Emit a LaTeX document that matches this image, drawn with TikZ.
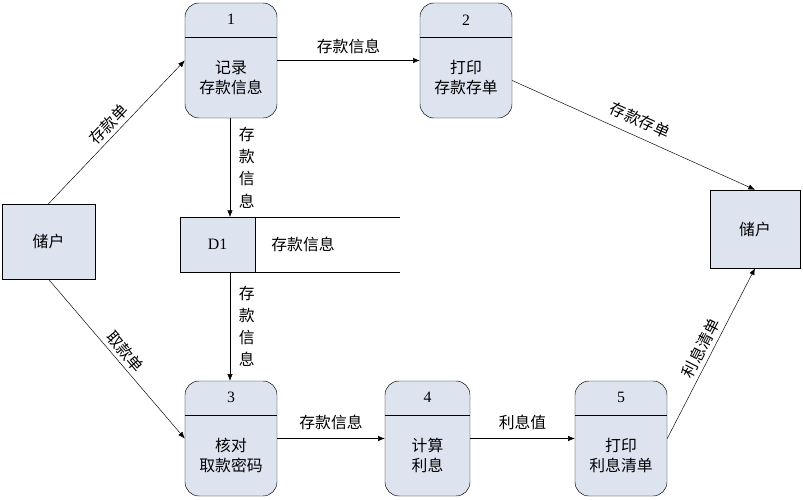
\documentclass[tikz,border=0pt]{standalone}
\usepackage{fontspec}
\setmainfont{Liberation Serif}
\newfontfamily\cjk{Noto Sans CJK SC}
\usetikzlibrary{arrows.meta,calc,positioning}
\definecolor{boxfill}{RGB}{221,228,240}

\begin{document}
\begin{tikzpicture}[x=0.03cm, y=-0.03cm,
  every node/.style={font=\cjk\fontsize{13.5}{17}\selectfont},
  proc/.style={draw, fill=boxfill, rounded corners=12pt, minimum width=2.76cm,
               minimum height=3.45cm, inner sep=0pt},
  ext/.style={draw, fill=boxfill, minimum width=2.8cm, minimum height=2.25cm},
  num/.style={font=\fontsize{13.5}{15}\selectfont},
  arr/.style={-{Latex[length=2mm,width=1.6mm]}},
  vlab/.style={align=center, font=\cjk\fontsize{13.5}{19}\selectfont}
]
\useasboundingbox (0,0) rectangle (803,500);

% external entities
\node[ext] (cusL) at (48.5,241.5) {储户};
\node[ext, minimum width=2.7cm, minimum height=2.34cm] (cusR) at (755,229) {储户};

% processes
\foreach \n/\x/\y/\w/\t in {1/231/60.5/2.76/{记录\\存款信息}, 2/466/60.5/2.76/{打印\\存款存单},
    3/231/438.5/2.76/{核对\\取款密码}, 4/427.5/438.5/2.55/{计算\\利息}, 5/621/438.5/2.76/{打印\\利息清单}}{
  \node[proc, minimum width=\w cm] (p\n) at (\x,\y) {};
  \draw ($(p\n.north west)+(0,34)$) -- ($(p\n.north east)+(0,34)$);
  \node[num] at ($(p\n.north)+(0,17)$) {\n};
  \node[align=center] at ($(p\n.center)+(0,17)$) {\t};
}

% data store
\fill[boxfill] (180,217) rectangle (255,272);
\draw (400,217) -- (180,217) -- (180,272) -- (400,272);
\draw (255,217) -- (255,272);
\node[num] (d1) at (217.5,244.5) {D1};
\node (dname) at (303,244.5) {存款信息};
\coordinate (dtop) at (230,217);
\coordinate (dbot) at (230,272);

% flows
\draw[arr] (cusL.north) -- node[sloped, above] {存款单} (p1.west);
\draw[arr] (cusL.south) -- node[sloped, above] {取款单} (p3.west);
\draw[arr] (p1.east) -- node[above=2pt] {存款信息} (p2.west);
\draw[arr] ($(p2.east)+(0,20)$) -- node[sloped, above=4pt] {存款存单} (cusR.north);
\draw[arr] (p1.south -| dtop) -- node[right=4pt, vlab] {存\\款\\信\\息} (dtop);
\draw[arr] (dbot) -- node[right=4pt, vlab] {存\\款\\信\\息} (p3.north -| dbot);
\draw[arr] (p3.east) -- node[above=4pt] {存款信息} (p4.west);
\draw[arr] (p4.east) -- node[above=4pt] {利息值} (p5.west);
\draw[arr] (p5.east) -- node[sloped, above] {利息清单} (cusR.south);
\end{tikzpicture}
\end{document}
